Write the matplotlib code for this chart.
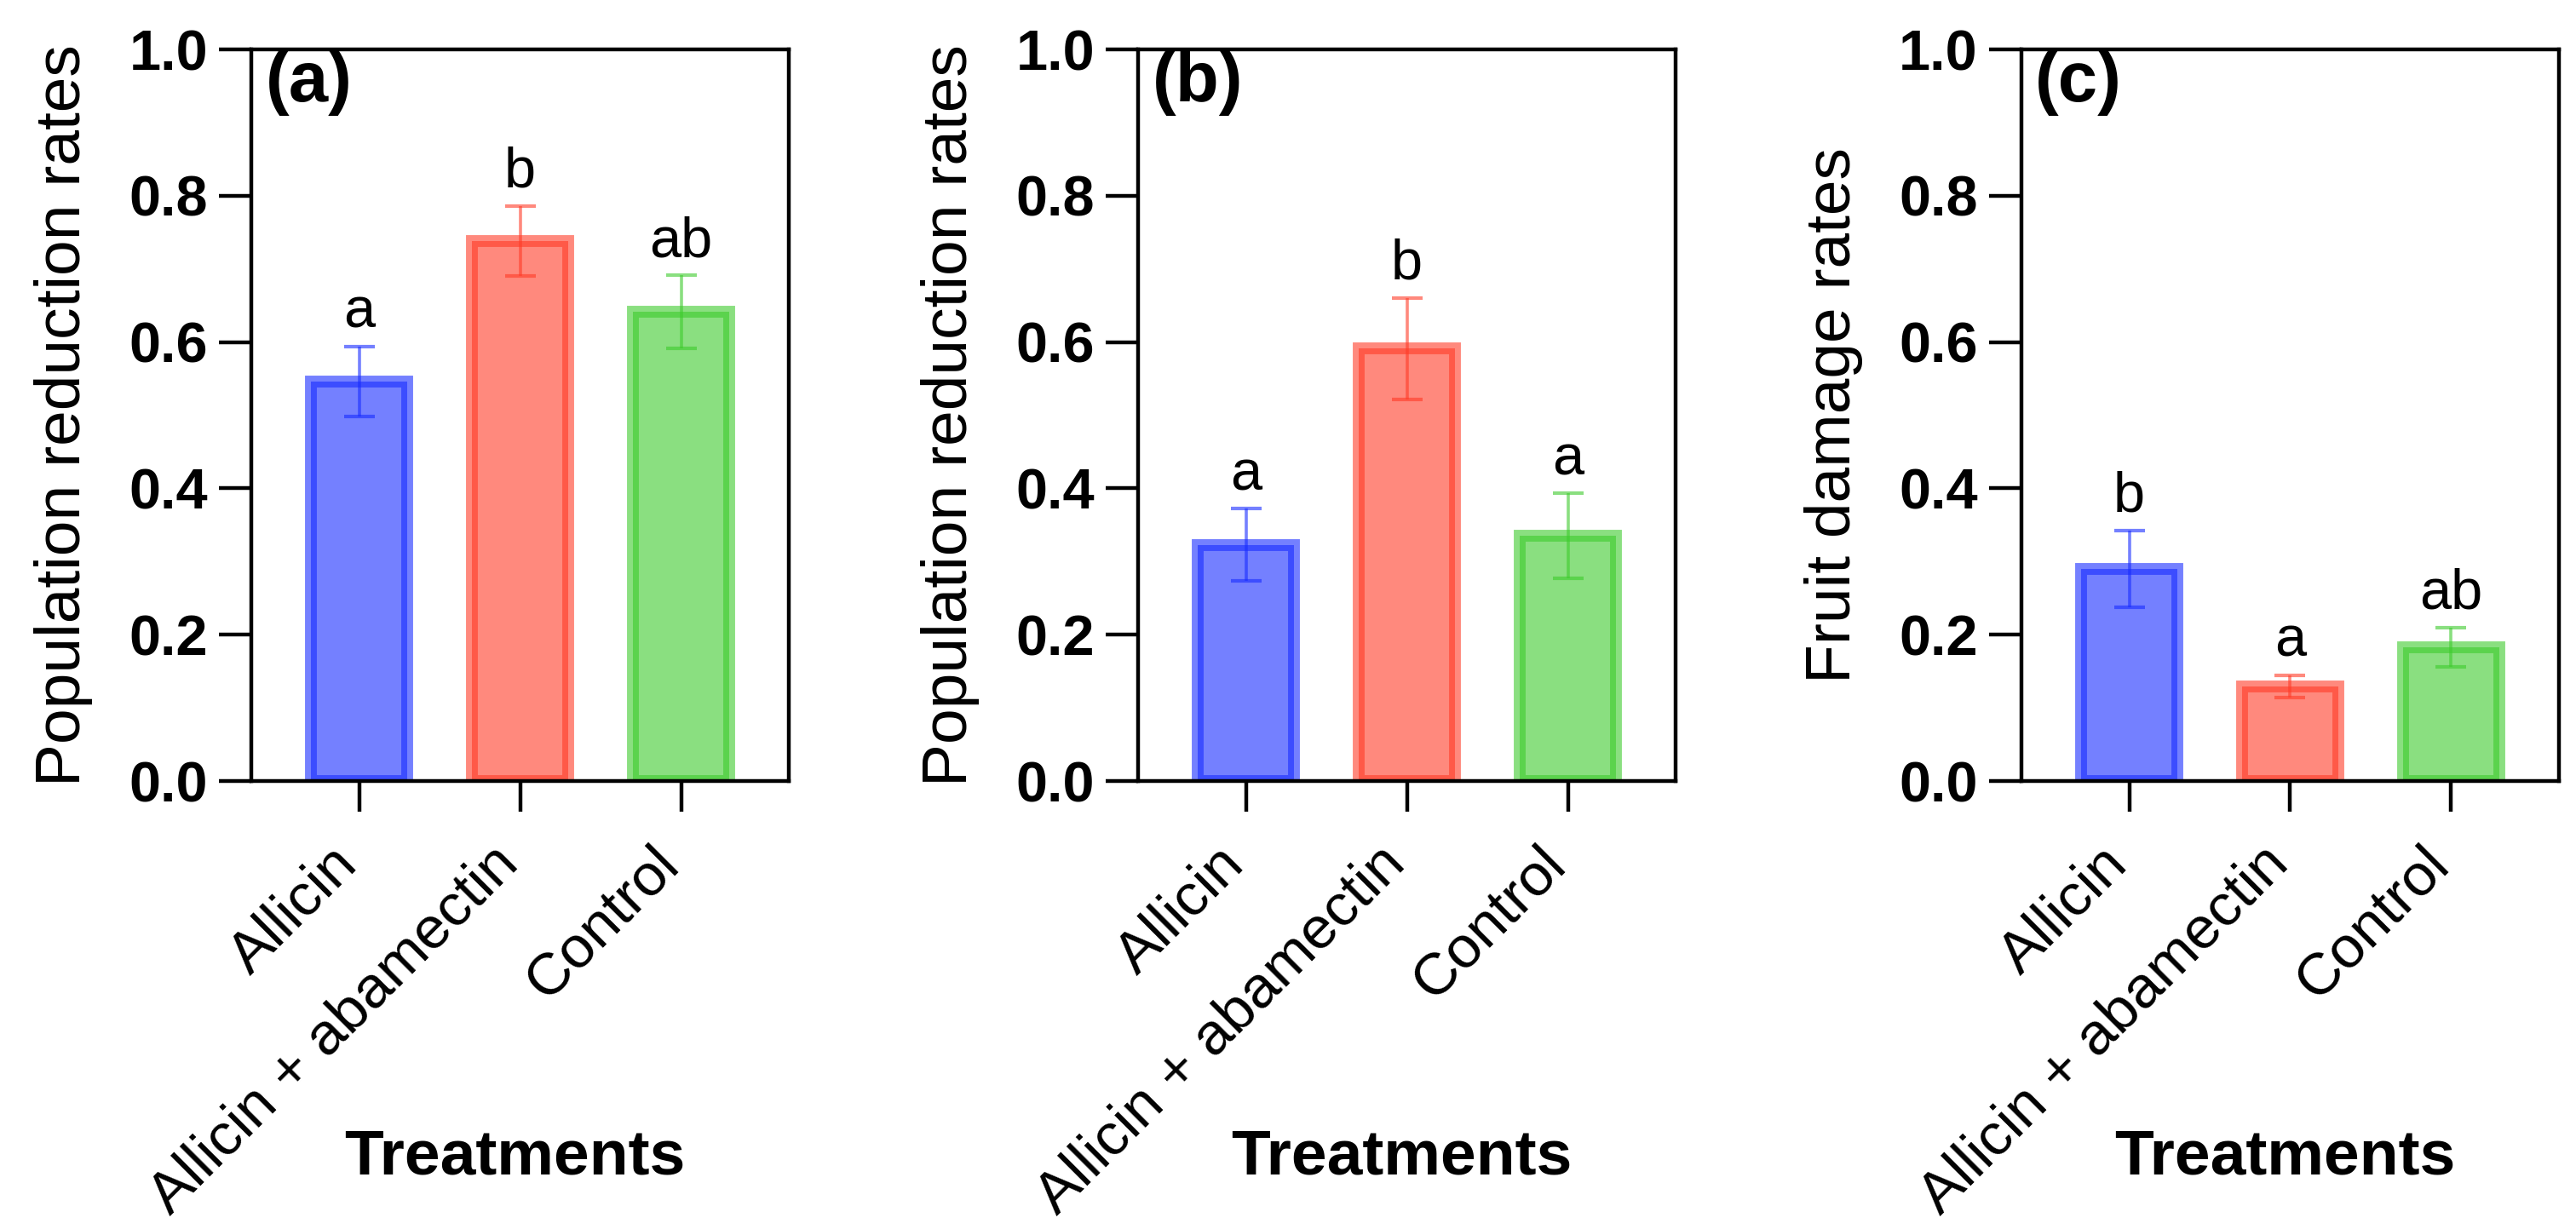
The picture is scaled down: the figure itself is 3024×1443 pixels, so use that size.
import matplotlib
matplotlib.use('Agg')
import matplotlib.pyplot as plt
import numpy as np

plt.rcParams['font.family'] = ['Liberation Sans', 'DejaVu Sans']

# data
treatments = ['Allicin', 'Allicin + abamectin', 'Control']
bar_colors = ['#172bff', '#ff3a26', '#3ccb2b']

means_a = [0.546, 0.738, 0.641]
err_a = [0.048, 0.048, 0.050]
letters_a = ['a', 'b', 'ab']

means_b = [0.323, 0.591, 0.335]
err_b = [0.049, 0.069, 0.058]
letters_b = ['a', 'b', 'a']

means_c = [0.290, 0.129, 0.183]
err_c = [0.052, 0.015, 0.027]
letters_c = ['b', 'a', 'ab']

panels = [
    ('(a)', 'Population reduction rates', means_a, err_a, letters_a),
    ('(b)', 'Population reduction rates', means_b, err_b, letters_b),
    ('(c)', 'Fruit damage rates', means_c, err_c, letters_c),
]

fig = plt.figure(figsize=(15.12, 7.215), dpi=200)
lefts = [0.0976, 0.4418, 0.7847]

for left, (tag, ylab, means, errs, letters) in zip(lefts, panels):
    ax = fig.add_axes([left, 0.3645, 0.2087, 0.5953])
    x = np.arange(len(treatments))

    ax.bar(x, means, width=0.6, color=bar_colors, edgecolor=bar_colors,
           linewidth=5, alpha=0.6, joinstyle='miter', zorder=2)
    for xi, m, e, c in zip(x, means, errs, bar_colors):
        ax.errorbar(xi, m, yerr=e, fmt='none', ecolor=c, elinewidth=1.3,
                    capsize=6.5, capthick=1.5, alpha=0.6, zorder=3)
    for xi, m, e, lab in zip(x, means, errs, letters):
        ax.text(xi, m + e + 0.026, lab, ha='center', va='baseline', fontsize=24)

    ax.set_xlim(-0.67, 2.67)
    ax.set_ylim(0, 1.0)
    ax.set_yticks(np.arange(0, 1.01, 0.2))
    ax.set_yticklabels(['%.1f' % v for v in np.arange(0, 1.01, 0.2)],
                       fontsize=24, fontweight='bold')
    ax.set_xticks(x)
    ax.set_xticklabels(treatments, rotation=45, ha='right', va='baseline',
                       rotation_mode='anchor', fontsize=25)

    for sp in ax.spines.values():
        sp.set_linewidth(1.6)
    ax.tick_params(axis='y', direction='out', length=13.7, width=1.6, pad=4.7)
    ax.tick_params(axis='x', direction='out', length=13, width=1.6, pad=23)

    ax.set_ylabel(ylab, fontsize=27)
    ax.yaxis.label.set_va('baseline')
    ax.yaxis.set_label_coords(-0.318, 0.5)

    ax.set_xlabel('Treatments', fontsize=27, fontweight='bold')
    ax.xaxis.label.set_va('baseline')
    ax.xaxis.set_label_coords(0.49, -0.537)

    ax.text(0.026, 0.929, tag, transform=ax.transAxes, fontsize=30,
            fontweight='bold', ha='left', va='baseline')

plt.savefig('out.png', dpi=200)
